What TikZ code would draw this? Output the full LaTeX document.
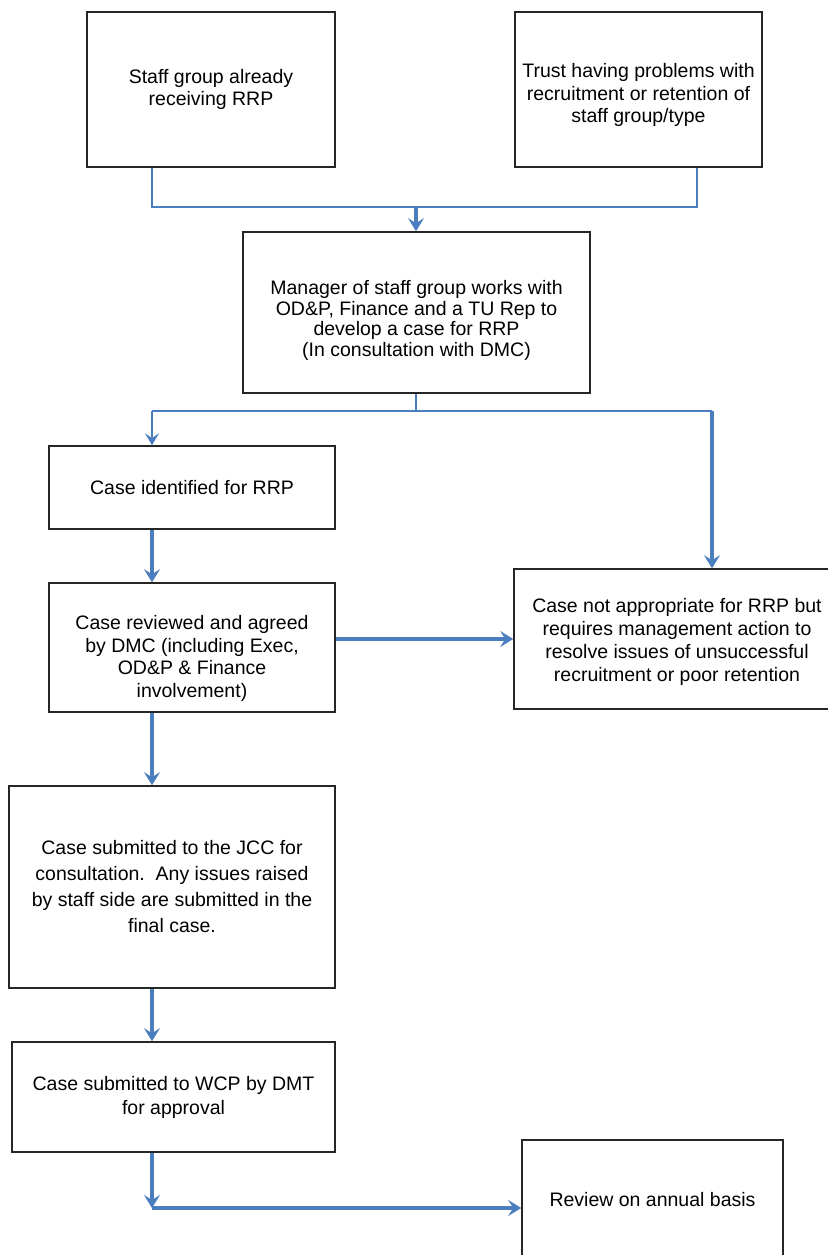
\documentclass[tikz,border=0pt]{standalone}
\usepackage{fontspec}
\setmainfont{Liberation Sans}
\usetikzlibrary{arrows.meta}
\definecolor{linkblue}{RGB}{74,126,190}
\newcommand{\lowerby}[1]{\rule{0pt}{#1}}

\begin{document}
\begin{tikzpicture}[x=1pt,y=-1pt,
    box/.style={draw=black!85,line width=1.6pt,align=center,inner sep=0pt,
        font=\fontsize{19.5}{22.5}\selectfont},
    joinline/.style={draw=linkblue,line width=1.5pt},
    thinlink/.style={joinline,-{Stealth[length=12pt,width=14pt,inset=5pt]}},
    link/.style={draw=linkblue,line width=3.3pt,-{Stealth[length=13pt,width=16pt,inset=5pt]}}]
    \useasboundingbox (0,0) rectangle (827,1255);
    \node[box,minimum width=248pt,minimum height=155pt] (staff) at (211,89.5)
        {Staff group already\\receiving RRP};
    \node[box,minimum width=247pt,minimum height=155pt] (trust) at (638.5,89.5)
        {\lowerby{26pt}Trust having problems with\\recruitment or retention of\\staff group/type};
    \node[box,minimum width=347pt,minimum height=161pt,
        font=\fontsize{19.5}{20.5}\selectfont] (manager) at (416.5,312.5)
        {\lowerby{30pt}Manager of staff group works with\\OD\&P, Finance and a TU Rep to\\develop a case for RRP\\(In consultation with DMC)};
    \node[box,minimum width=286pt,minimum height=83pt] (identified) at (192,487.5)
        {Case identified for RRP};
    \node[box,minimum width=286pt,minimum height=129pt] (reviewed) at (192,647.5)
        {\lowerby{36pt}Case reviewed and agreed\\by DMC (including Exec,\\OD\&P \& Finance\\involvement)};
    \node[box,minimum width=326pt,minimum height=140pt,
        font=\fontsize{19.5}{23}\selectfont] (notrrp) at (677,639)
        {\lowerby{21pt}Case not appropriate for RRP but\\requires management action to\\resolve issues of unsuccessful\\recruitment or poor retention};
    \node[box,minimum width=326pt,minimum height=202pt,
        font=\fontsize{19.5}{26}\selectfont] (jcc) at (172,887)
        {Case submitted to the JCC for\\consultation.\ \ Any issues raised\\by staff side are submitted in the\\final case.};
    \node[box,minimum width=323pt,minimum height=110pt,
        font=\fontsize{19.5}{24}\selectfont] (wcp) at (173.5,1097)
        {Case submitted to WCP by DMT\\for approval};
    \node[box,minimum width=261pt,minimum height=120pt] (annual) at (652.5,1200)
        {Review on annual basis};

    \coordinate (topjoin) at (416,207);
    \coordinate (leftcol) at (152,207);
    \coordinate (rightcol) at (697,207);
    \coordinate (midjoin) at (416,411);
    \coordinate (splitleft) at (152,411);
    \coordinate (splitright) at (712,411);
    \coordinate (bottomturn) at (152,1208);

    \draw[joinline] (staff.south -| leftcol) -- (leftcol) -- (rightcol) -- (trust.south -| rightcol);
    \draw[link] (topjoin) -- (manager.north -| topjoin);
    \draw[joinline] (manager.south -| midjoin) -- (midjoin);
    \draw[joinline] (splitleft) -- (splitright);
    \draw[thinlink] (splitleft) -- (identified.north -| splitleft);
    \draw[link] (splitright) -- (notrrp.north -| splitright);
    \draw[link] (identified.south -| leftcol) -- (reviewed.north -| leftcol);
    \draw[link] (reviewed.east |- notrrp.west) -- (notrrp.west);
    \draw[link] (reviewed.south -| leftcol) -- (jcc.north -| leftcol);
    \draw[link] (jcc.south -| leftcol) -- (wcp.north -| leftcol);
    \draw[link] (wcp.south -| leftcol) -- (bottomturn);
    \draw[link] (bottomturn) -- (annual.west |- bottomturn);
\end{tikzpicture}
\end{document}
